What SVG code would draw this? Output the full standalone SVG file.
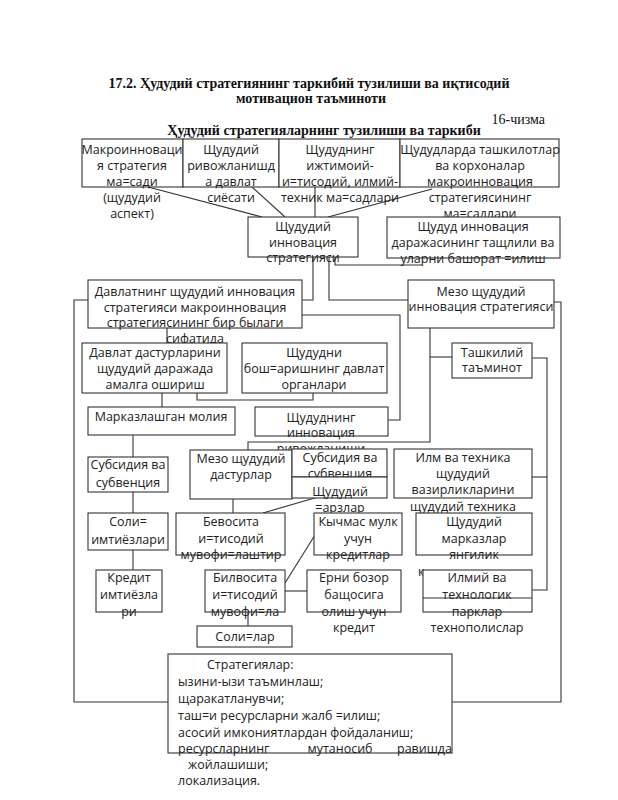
<svg xmlns="http://www.w3.org/2000/svg" width="618" height="800" viewBox="0 0 618 800">
<style>
.bx{fill:#fff;stroke:#333;stroke-width:1.1}
.t{font-family:"Open Sans","Noto Sans","DejaVu Sans",sans-serif;font-size:12.5px;fill:#222;text-anchor:middle}
.tl{font-family:"Open Sans","Noto Sans","DejaVu Sans",sans-serif;font-size:12.5px;fill:#222}
.ttl{font-family:"Liberation Serif","Times New Roman",serif;font-size:14px;font-weight:bold;fill:#111;text-anchor:middle}
.ln{fill:none;stroke:#333;stroke-width:1.1}
</style>
<rect width="618" height="800" fill="#fff"/>
<g id="title">
<text class="ttl" x="309" y="88">17.2. Ҳудудий стратегиянинг таркибий  тузилиши ва иқтисодий</text>
<text class="ttl" x="311" y="103">мотивацион таъминоти</text>
<text x="545" y="124" style="font-family:'Liberation Serif',serif;font-size:14px;fill:#111;text-anchor:end">16-чизма</text>
<text class="ttl" x="324" y="135">Ҳудудий стратегияларнинг тузилиши ва таркиби</text>
</g>
<g id="connectors">
<path class="ln" d="M148 187 L262 217"/>
<path class="ln" d="M252 187 L285 217"/>
<path class="ln" d="M315 187 V217"/>
<path class="ln" d="M432 189 L328 217"/>
<path class="ln" d="M335 257 V265 H422"/>
<path class="ln" d="M313 257 V300 H302"/>
<path class="ln" d="M329 257 V300 H408"/>
<path class="ln" d="M88 300 H74 V702 H168"/>
<path class="ln" d="M554 302 H561 V702 H452"/>
<path class="ln" d="M302 315 H400 V420 H388"/>
<path class="ln" d="M167 328 V343"/>
<path class="ln" d="M197 393 V400 H313 V393"/>
<path class="ln" d="M162 393 V407"/>
<path class="ln" d="M430 328 V442 H248 V450"/>
<path class="ln" d="M430 357 H452"/>
<path class="ln" d="M532 358 H547 V590 H532"/>
<path class="ln" d="M532 477 H547"/>
<path class="ln" d="M133 435 V457"/>
<path class="ln" d="M133 492 V513"/>
<path class="ln" d="M133 550 V570"/>
<path class="ln" d="M233 499 V513"/>
<path class="ln" d="M263 513 L318 497"/>
<path class="ln" d="M285 583 L315 535"/>
<path class="ln" d="M285 591 H307"/>
<path class="ln" d="M248 612 V626"/>
</g>
<g id="n1"><rect class="bx" x="82" y="139" width="101" height="48"/>
<text class="t" x="132" y="154">Макроинноваци</text><text class="t" x="132" y="170">я стратегия</text><text class="t" x="132" y="186">ма=сади</text><text class="t" x="132" y="202">(щудудий</text><text class="t" x="132" y="218">аспект)</text></g>
<g id="n2"><rect class="bx" x="183" y="139" width="96" height="48"/>
<text class="t" x="231" y="154">Щудудий</text><text class="t" x="231" y="170">ривожланишд</text><text class="t" x="231" y="186">а давлат</text><text class="t" x="231" y="202">сиёсати</text></g>
<g id="n3"><rect class="bx" x="279" y="139" width="121" height="48"/>
<text class="t" x="340" y="154">Щудуднинг</text><text class="t" x="340" y="170">ижтимоий-</text><text class="t" x="340" y="186">и=тисодий, илмий-</text><text class="t" x="340" y="202">техник ма=садлари</text></g>
<g id="n4"><rect class="bx" x="400" y="139" width="159" height="48"/>
<text class="t" x="480" y="154">Щудудларда ташкилотлар</text><text class="t" x="480" y="170">ва корхоналар</text><text class="t" x="480" y="186">макроинновация</text><text class="t" x="480" y="202">стратегиясининг</text><text class="t" x="480" y="218">ма=садлари</text></g>
<g id="n5"><rect class="bx" x="248" y="217" width="110" height="40"/>
<text class="t" x="303" y="231">Щудудий</text><text class="t" x="303" y="247">инновация</text><text class="t" x="303" y="262">стратегияси</text></g>
<g id="n6"><rect class="bx" x="387" y="217" width="173" height="41"/>
<text class="t" x="473" y="231">Щудуд инновация</text><text class="t" x="473" y="247">даражасининг тащлили ва</text><text class="t" x="473" y="263">уларни башорат =илиш</text></g>
<g id="n7"><rect class="bx" x="88" y="280" width="214" height="48"/>
<text class="t" x="195" y="296">Давлатнинг щудудий инновация</text><text class="t" x="195" y="312">стратегияси макроинновация</text><text class="t" x="195" y="327">стратегиясининг бир былаги</text><text class="t" x="195" y="343">сифатида</text></g>
<g id="n8"><rect class="bx" x="408" y="280" width="146" height="48"/>
<text class="t" x="481" y="296">Мезо щудудий</text><text class="t" x="481" y="311">инновация стратегияси</text></g>
<g id="n9"><rect class="bx" x="82" y="343" width="145" height="50"/>
<text class="t" x="155" y="357">Давлат дастурларини</text><text class="t" x="155" y="373">щудудий даражада</text><text class="t" x="155" y="389">амалга ошириш</text></g>
<g id="n10"><rect class="bx" x="242" y="343" width="145" height="50"/>
<text class="t" x="314" y="357">Щудудни</text><text class="t" x="314" y="373">бош=аришнинг давлат</text><text class="t" x="314" y="389">органлари</text></g>
<g id="n11"><rect class="bx" x="452" y="343" width="80" height="35"/>
<text class="t" x="492" y="357">Ташкилий</text><text class="t" x="492" y="372">таъминот</text></g>
<g id="n12"><rect class="bx" x="88" y="407" width="147" height="28"/>
<text class="t" x="161" y="421">Марказлашган молия</text></g>
<g id="n13"><rect class="bx" x="255" y="407" width="133" height="29"/>
<text class="t" x="321" y="422">Щудуднинг</text><text class="t" x="321" y="437">инновация</text><text class="t" x="321" y="453">ривожланиши</text></g>
<g id="n14"><rect class="bx" x="88" y="457" width="80" height="35"/>
<text class="t" x="128" y="469">Субсидия ва</text><text class="t" x="128" y="487">субвенция</text></g>
<g id="n15"><rect class="bx" x="190" y="450" width="102" height="49"/>
<text class="t" x="241" y="463">Мезо щудудий</text><text class="t" x="241" y="479">дастурлар</text></g>
<g id="n16"><rect class="bx" x="292" y="449" width="95" height="28"/>
<text class="t" x="340" y="462">Субсидия ва</text><text class="t" x="340" y="478">субвенция</text></g>
<g id="n17"><rect class="bx" x="292" y="477" width="95" height="21"/>
<text class="t" x="340" y="496">Щудудий</text><text class="t" x="340" y="512">=арзлар</text></g>
<g id="n18"><rect class="bx" x="394" y="449" width="138" height="49"/>
<text class="t" x="463" y="462">Илм ва техника</text><text class="t" x="463" y="478">щудудий</text><text class="t" x="463" y="494">вазирликларини</text><text class="t" x="463" y="511">щудудий техника</text></g>
<g id="n19"><rect class="bx" x="88" y="513" width="80" height="37"/>
<text class="t" x="128" y="526">Соли=</text><text class="t" x="128" y="544">имтиёзлари</text></g>
<g id="n20"><rect class="bx" x="176" y="513" width="109" height="42"/>
<text class="t" x="231" y="526">Бевосита</text><text class="t" x="231" y="543">и=тисодий</text><text class="t" x="231" y="559">мувофи=лаштир</text></g>
<g id="n21"><rect class="bx" x="314" y="513" width="88" height="42"/>
<text class="t" x="358" y="526">Кычмас мулк</text><text class="t" x="358" y="543">учун</text><text class="t" x="358" y="559">кредитлар</text></g>
<g id="n22"><rect class="bx" x="416" y="513" width="116" height="42"/>
<text class="t" x="474" y="526">Щудудий</text><text class="t" x="474" y="543">марказлар</text><text class="t" x="474" y="559">янгилик</text><text class="tl" x="418" y="576">к</text></g>
<g id="n23"><rect class="bx" x="96" y="570" width="66" height="42"/>
<text class="t" x="129" y="582">Кредит</text><text class="t" x="129" y="599">имтиёзла</text><text class="t" x="129" y="616">ри</text></g>
<g id="n24"><rect class="bx" x="205" y="570" width="80" height="42"/>
<text class="t" x="245" y="582">Билвосита</text><text class="t" x="245" y="599">и=тисодий</text><text class="t" x="245" y="616">мувофи=ла</text></g>
<g id="n25"><rect class="bx" x="307" y="570" width="94" height="42"/>
<text class="t" x="354" y="582">Ерни бозор</text><text class="t" x="354" y="599">бащосига</text><text class="t" x="354" y="616">олиш учун</text><text class="t" x="354" y="632">кредит</text></g>
<g id="n26"><rect class="bx" x="423" y="570" width="109" height="42"/><line class="ln" x1="423" y1="598" x2="532" y2="598"/>
<text class="t" x="477" y="582">Илмий ва</text><text class="t" x="477" y="599">технологик</text><text class="t" x="477" y="616">парклар</text><text class="t" x="477" y="632">технополислар</text></g>
<g id="n27"><rect class="bx" x="197" y="626" width="95" height="21"/>
<text class="t" x="245" y="641">Соли=лар</text></g>
<g id="n28"><rect class="bx" x="168" y="654" width="284" height="99"/>
<text class="tl" x="207" y="669">Стратегиялар:</text>
<text class="tl" x="178" y="686">ызини-ызи таъминлаш;</text>
<text class="tl" x="178" y="703">щаракатланувчи;</text>
<text class="tl" x="178" y="720">таш=и ресурсларни жалб =илиш;</text>
<text class="tl" x="178" y="737">асосий имкониятлардан фойдаланиш;</text>
<text class="tl" x="178" y="753">ресурсларнинг</text><text class="t" x="340" y="753">мутаносиб</text><text class="tl" x="452" y="753" text-anchor="end">равишда</text>
<text class="tl" x="188" y="769">жойлашиши;</text>
<text class="tl" x="178" y="785">локализация.</text></g>
</svg>
